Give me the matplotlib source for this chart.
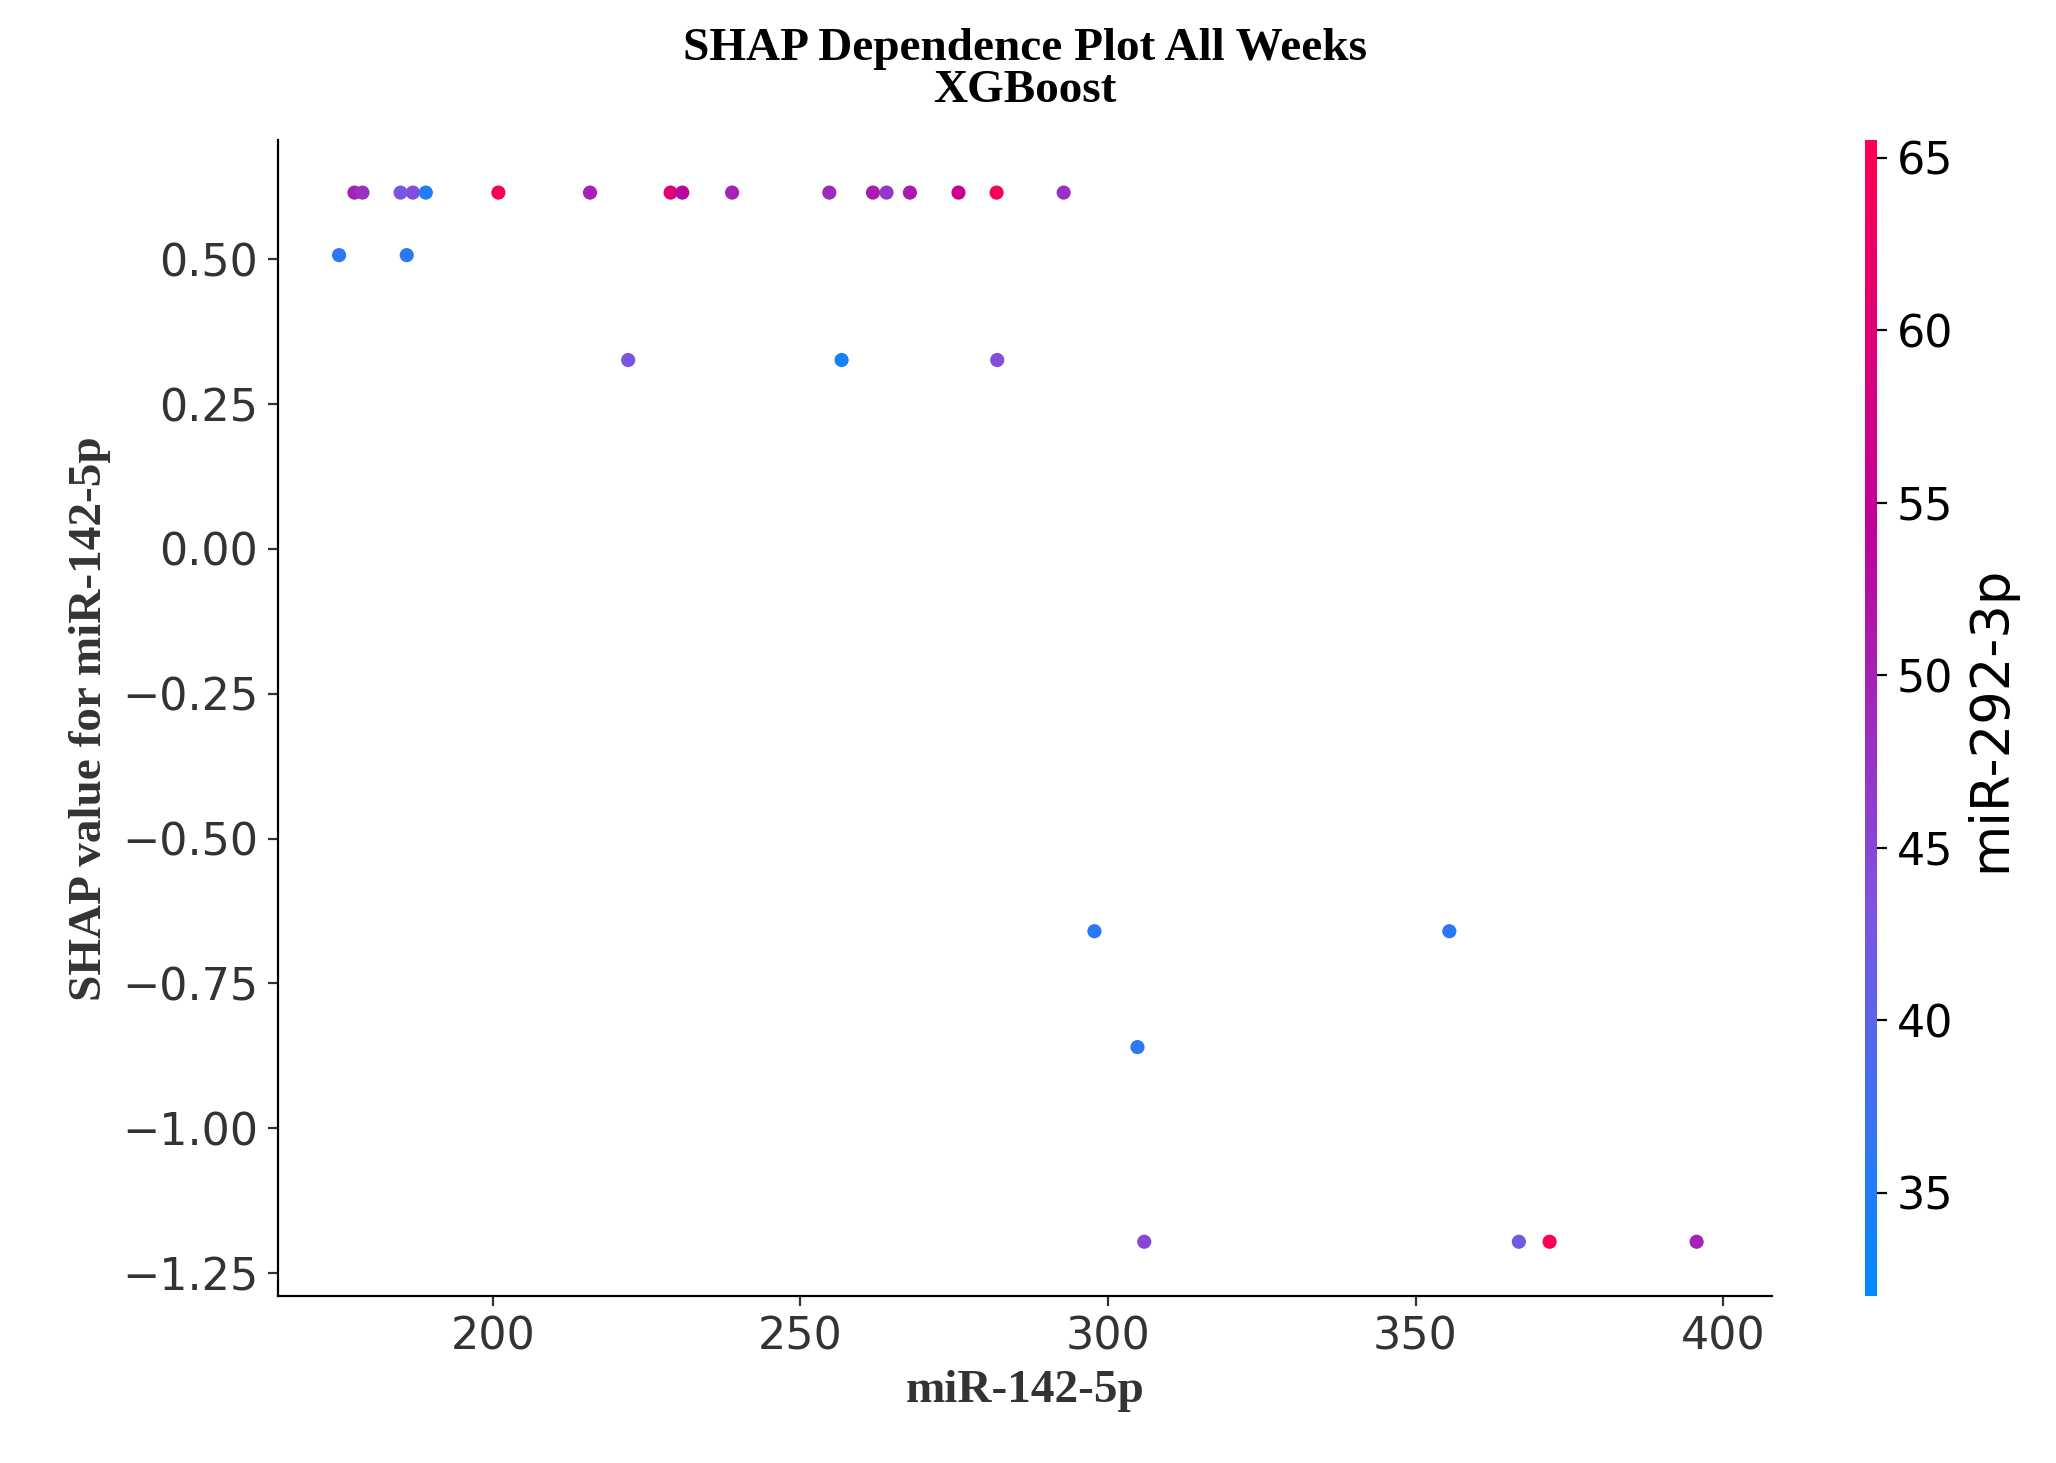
import numpy as np
import matplotlib
matplotlib.use("Agg")
import matplotlib.pyplot as plt
from matplotlib.colors import LinearSegmentedColormap

# feature values (miR-142-5p), SHAP values, interaction feature (miR-292-3p)
x_vals = [177.5, 178.8, 185, 187, 189.1, 200.9, 215.8, 228.9, 230.8, 238.9, 254.7, 261.8, 264, 267.8, 275.7, 281.9, 292.8,
          175, 186,
          222, 256.7, 282,
          297.8, 355.5,
          304.8,
          305.9, 366.8, 371.8, 395.7]
shap_vals = [0.615] * 17 + [0.507] * 2 + [0.326] * 3 + [-0.66] * 2 + [-0.86] + [-1.196] * 4
color_vals = [50, 48, 43, 44, 35, 65, 50, 60, 53, 50, 49, 51, 47, 51, 56, 64, 48,
              36, 36,
              43, 34, 44,
              36, 36,
              36,
              45, 42, 65, 50]

red_blue = LinearSegmentedColormap.from_list(
    "red_blue", [(0, 138/255, 1), (0.49, 0.33, 0.88), (0.75, 0.0, 0.6), (1, 0, 82/255)])

fig = plt.figure(figsize=(10.28, 7.315), dpi=200)
ax = fig.add_axes([0.135, 0.114, 0.727, 0.79])
cax = fig.add_axes([0.907, 0.114, 0.006, 0.79])

sc = ax.scatter(x_vals, shap_vals, c=color_vals, cmap=red_blue, vmin=32, vmax=65.5, s=26, linewidths=0)

ax.set_xlim(165, 408)
ax.set_ylim(-1.29, 0.705)
ax.set_yticks([0.5, 0.25, 0, -0.25, -0.5, -0.75, -1.0, -1.25])
ax.spines["top"].set_visible(False)
ax.spines["right"].set_visible(False)
ax.tick_params(labelsize=16, colors="#333333", labelcolor="#333333")
ax.set_xlabel("miR-142-5p", fontsize=17, fontweight="bold", family="Liberation Serif", color="#333333")
ax.set_ylabel("SHAP value for miR-142-5p", fontsize=17, fontweight="bold", family="Liberation Serif", color="#333333")
ax.set_title("SHAP Dependence Plot All Weeks\nXGBoost", fontsize=17, fontweight="bold", family="Liberation Serif",
             linespacing=1.0, pad=14)

cb = fig.colorbar(sc, cax=cax)
cb.outline.set_visible(False)
cb.set_ticks([35, 40, 45, 50, 55, 60, 65])
cb.ax.tick_params(labelsize=16)
cb.set_label("miR-292-3p", fontsize=19)

fig.savefig("out.png", dpi=200)
